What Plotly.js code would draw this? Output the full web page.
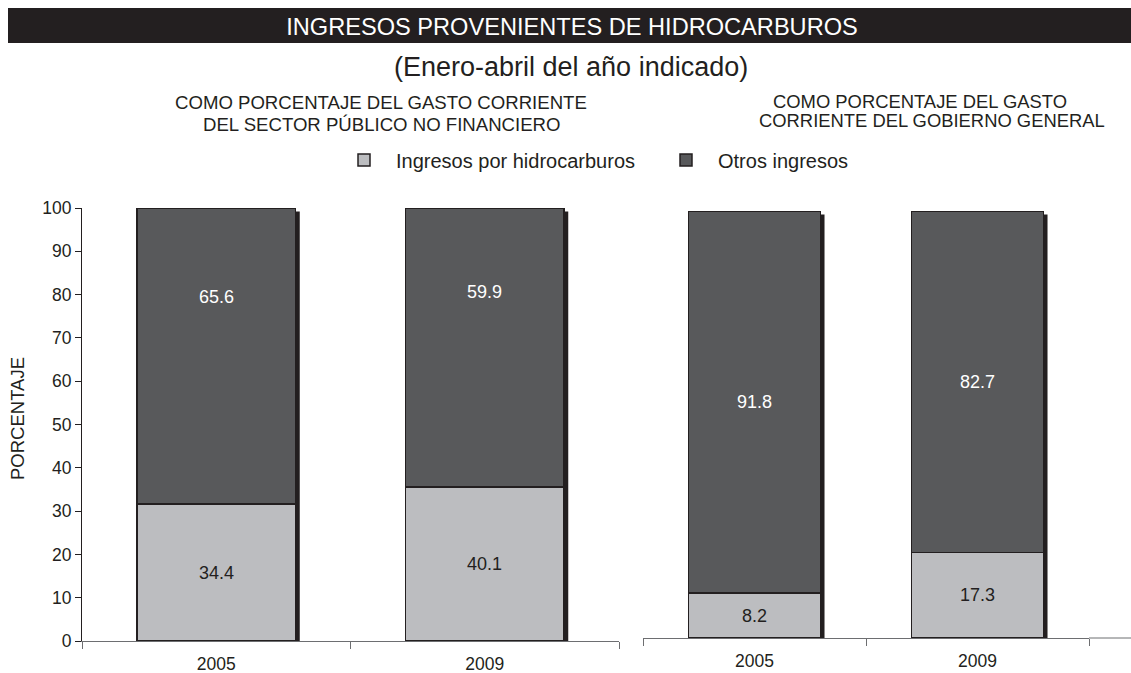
<!DOCTYPE html>
<html>
<head>
<meta charset="utf-8">
<script src="https://cdn.plot.ly/plotly-3.0.1.min.js"></script>
<style>html,body{margin:0;padding:0;background:#fff;}#chart{width:1131px;height:673px;}</style>
</head>
<body>
<div id="chart"></div>
<script>
// ---- data ----
const years = ['2005', '2009'];
// Left panel: % of current spending of the non-financial public sector (bar heights as drawn)
const leftHidro = [31.6, 35.6];
const leftOtros = [68.4, 64.4];
const leftHidroLabels = ['34.4', '40.1'];
const leftOtrosLabels = ['65.6', '59.9'];
// Right panel: % of current spending of the general government (bar heights as drawn)
const rightHidro = [10.5, 20.0];
const rightOtros = [89.5, 80.0];
const rightHidroLabels = ['8.2', '17.3'];
const rightOtrosLabels = ['91.8', '82.7'];
const yTicks = [0, 10, 20, 30, 40, 50, 60, 70, 80, 90, 100];

// ---- styles ----
const W = 1131, H = 673;
const FONT = '"Liberation Sans", Arial, Helvetica, sans-serif';
const INK = '#231f20';
const LIGHT = '#bcbdc0';
const DARK = '#58595b';
const px = v => v / W;
const py = v => (H - v) / H;

const barLine = {color: INK, width: 1.5};

const traces = [
  {type: 'bar', x: years, y: leftHidro, xaxis: 'x', yaxis: 'y', name: 'Ingresos por hidrocarburos',
   marker: {color: LIGHT, line: barLine}, legendgroup: 'h', hoverinfo: 'skip'},
  {type: 'bar', x: years, y: leftOtros, xaxis: 'x', yaxis: 'y', name: 'Otros ingresos',
   marker: {color: DARK, line: barLine}, legendgroup: 'o', hoverinfo: 'skip'},
  {type: 'bar', x: years, y: rightHidro, xaxis: 'x2', yaxis: 'y2', name: 'Ingresos por hidrocarburos',
   marker: {color: LIGHT, line: barLine}, legendgroup: 'h', showlegend: false, hoverinfo: 'skip'},
  {type: 'bar', x: years, y: rightOtros, xaxis: 'x2', yaxis: 'y2', name: 'Otros ingresos',
   marker: {color: DARK, line: barLine}, legendgroup: 'o', showlegend: false, hoverinfo: 'skip'}
];

const bargap = 0.41;
const half = (1 - bargap) / 2;

const annotations = [];
const shapes = [];

function panel(xr, yr, hidro, otros, hLab, oLab, frac, shW, shDrop) {
  years.forEach((yr_, i) => {
    annotations.push({xref: xr, yref: yr, x: i, y: hidro[i] / 2, text: hLab[i], showarrow: false,
      font: {family: FONT, size: 18, color: INK}});
    annotations.push({xref: xr, yref: yr, x: i, y: hidro[i] + otros[i] * frac, text: oLab[i], showarrow: false,
      font: {family: FONT, size: 18, color: '#ffffff'}});
    const total = hidro[i] + otros[i];
    shapes.push({type: 'rect', xref: xr, yref: yr, x0: i + half, x1: i + half + shW, y0: 0, y1: total - shDrop,
      fillcolor: INK, line: {width: 0}, layer: 'below'});
  });
}
panel('x', 'y', leftHidro, leftOtros, leftHidroLabels, leftOtrosLabels, 0.7, 0.016, 0.8);
panel('x2', 'y2', rightHidro, rightOtros, rightHidroLabels, rightOtrosLabels, 0.5, 0.019, 0.8);

// title bar
shapes.push({type: 'rect', xref: 'paper', yref: 'paper', x0: px(8), x1: 1, y0: py(43), y1: py(8),
  fillcolor: INK, line: {width: 0}, layer: 'below'});
// right axis baseline extension
shapes.push({type: 'line', xref: 'paper', yref: 'paper', x0: px(1089), x1: 1, y0: py(638), y1: py(638),
  line: {color: '#6d6e71', width: 1}});

const txt = (x, y, text, size, color, extra) => Object.assign({xref: 'paper', yref: 'paper', x: px(x), y: py(y),
  text, showarrow: false, xanchor: 'center', yanchor: 'middle', font: {family: FONT, size, color: color || INK}}, extra || {});

annotations.push(txt(571, 67, '(Enero-abril del año indicado)', 27));
annotations.push(txt(381, 102, 'COMO PORCENTAJE DEL GASTO CORRIENTE', 18.6));
annotations.push(txt(381, 124, 'DEL SECTOR PÚBLICO NO FINANCIERO', 18.6));
annotations.push(txt(920, 101, 'COMO PORCENTAJE DEL GASTO', 18.4));
annotations.push(txt(932, 120, 'CORRIENTE DEL GOBIERNO GENERAL', 18.4));
annotations.push(txt(17, 419, 'PORCENTAJE', 18.5, INK, {textangle: -90}));

const xaxisBase = {type: 'category', range: [-0.5, 1.5], autorange: false, tickson: 'boundaries', ticks: 'outside',
  ticklen: 7, tickcolor: '#6d6e71', tickangle: 0, ticklabelstandoff: 7,
  showline: true, linecolor: '#6d6e71', linewidth: 1, showgrid: false, zeroline: false, fixedrange: true,
  tickfont: {family: FONT, size: 17.5, color: INK}};

const layout = {
  width: W, height: H,
  margin: {l: 0, r: 0, t: 0, b: 0},
  paper_bgcolor: '#ffffff', plot_bgcolor: 'rgba(0,0,0,0)',
  barmode: 'stack', bargap: bargap,
  font: {family: FONT, color: INK},
  title: {text: 'INGRESOS PROVENIENTES DE HIDROCARBUROS', x: px(572), xanchor: 'center', y: py(27), yanchor: 'middle',
    xref: 'paper', yref: 'paper', font: {family: FONT, size: 23.6, color: '#ffffff'}},
  xaxis: Object.assign({}, xaxisBase, {domain: [px(82), px(619)], anchor: 'y'}),
  yaxis: {domain: [py(641), py(208)], range: [0, 100], autorange: false, tickvals: yTicks, ticks: 'outside', ticklen: 6,
    tickcolor: INK, showline: true, linecolor: INK, linewidth: 1, showgrid: false, zeroline: false,
    fixedrange: true, anchor: 'x', tickfont: {family: FONT, size: 17.5, color: INK}},
  xaxis2: Object.assign({}, xaxisBase, {domain: [px(643), px(1089)], anchor: 'y2'}),
  yaxis2: {domain: [py(638), py(211)], range: [0, 100], autorange: false, visible: false, anchor: 'x2', fixedrange: true},
  showlegend: true,
  legend: {orientation: 'h', x: px(332), xanchor: 'left', y: py(160), yanchor: 'middle',
    font: {family: FONT, size: 20, color: INK}, itemwidth: 54, entrywidth: 253, entrywidthmode: 'pixels',
    bgcolor: 'rgba(0,0,0,0)', traceorder: 'normal', itemclick: false, itemdoubleclick: false},
  annotations: annotations,
  shapes: shapes
};

Plotly.newPlot('chart', traces, layout, {displayModeBar: false, staticPlot: true});
</script>
</body>
</html>
